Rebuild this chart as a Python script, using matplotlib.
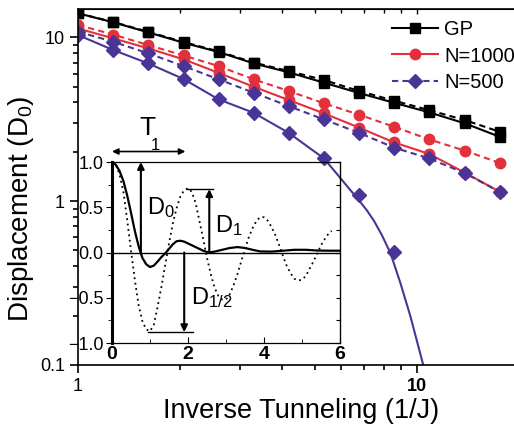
import numpy as np
import matplotlib.pyplot as plt
from matplotlib.ticker import FixedLocator, NullFormatter, MultipleLocator, LogLocator

plt.rcParams['font.family'] = ['Liberation Sans', 'DejaVu Sans']
plt.rcParams['mathtext.fontset'] = 'custom'
plt.rcParams['mathtext.rm'] = 'Liberation Sans'
plt.rcParams['mathtext.it'] = 'Liberation Sans'

# main panel data
inv_tunnel = [1.0, 1.27, 1.61, 2.05, 2.60, 3.30, 4.19, 5.33, 6.76, 8.59, 10.9, 13.9, 17.6]
gp_solid = [14.0, 12.34, 10.72, 9.26, 8.13, 6.93, 6.11, 5.28, 4.57, 3.98, 3.48, 2.98, 2.47]
gp_dashed = [14.0, 12.4, 10.8, 9.35, 8.2, 7.01, 6.22, 5.48, 4.70, 4.10, 3.59, 3.12, 2.65]
n1000_solid = [11.31, 9.85, 8.56, 7.33, 6.07, 4.99, 4.14, 3.43, 2.81, 2.28, 1.94, 1.49, 1.14]
n1000_dashed = [11.88, 10.39, 8.97, 7.74, 6.67, 5.54, 4.70, 3.95, 3.37, 2.84, 2.38, 2.03, 1.71]
n500_dashed = [10.81, 9.39, 7.98, 6.67, 5.54, 4.59, 3.80, 3.15, 2.61, 2.12, 1.82, 1.48, 1.14]
n500_marks = [10.32, 8.36, 6.93, 5.56, 4.18, 3.46, 2.61, 1.82, 1.09, 0.49]
n500_fit_x = [1.0, 1.27, 1.61, 2.05, 2.60, 3.30, 4.19, 5.33, 6.76, 7.1, 7.48, 7.9, 8.38,
              8.97, 9.60, 10.47, 10.7]
n500_fit_y = [10.32, 8.36, 6.93, 5.56, 4.18, 3.46, 2.61, 1.82, 1.01, 0.89, 0.76, 0.62, 0.48,
              0.314, 0.197, 0.0997, 0.085]

# inset data
t_solid = [0.0, 0.1, 0.2, 0.3, 0.4, 0.5, 0.6, 0.7, 0.8, 0.9, 1.0, 1.1, 1.2, 1.3, 1.4,
           1.5, 1.6, 1.7, 1.8, 1.9, 2.0, 2.2, 2.4, 2.55, 2.7, 2.9, 3.1, 3.3, 3.5, 3.7,
           3.9, 4.2, 4.5, 4.8, 5.1, 5.4, 5.7, 6.0]
d_solid = [1.00, 0.97, 0.90, 0.79, 0.63, 0.44, 0.24, 0.07, -0.06, -0.13, -0.16, -0.145, -0.10,
           -0.05, -0.01, 0.04, 0.09, 0.125, 0.13, 0.12, 0.10, 0.06, 0.02, 0.0, 0.01, 0.03,
           0.05, 0.06, 0.05, 0.03, 0.012, 0.01, 0.02, 0.03, 0.03, 0.022, 0.02, 0.02]
t_dot = [0.0, 0.1, 0.2, 0.3, 0.4, 0.5, 0.6, 0.7, 0.8, 0.9, 1.0, 1.1, 1.2, 1.3, 1.4, 1.5,
         1.6, 1.7, 1.8, 1.9, 2.0, 2.1, 2.2, 2.3, 2.4, 2.5, 2.6, 2.7, 2.8, 2.9, 3.0, 3.1,
         3.2, 3.3, 3.4, 3.5, 3.6, 3.7, 3.8, 3.9, 4.0, 4.1, 4.2, 4.3, 4.4, 4.5, 4.6, 4.7,
         4.8, 4.9, 5.0, 5.1, 5.2, 5.3, 5.4, 5.5, 5.6, 5.7, 5.78]
d_dot = [1.00, 0.97, 0.86, 0.67, 0.36, 0.02, -0.30, -0.58, -0.76, -0.85, -0.87, -0.80,
         -0.60, -0.38, -0.14, 0.10, 0.32, 0.49, 0.62, 0.69, 0.71, 0.67, 0.55, 0.35, 0.15,
         -0.06, -0.24, -0.39, -0.48, -0.52, -0.52, -0.46, -0.36, -0.24, -0.10, 0.04, 0.17,
         0.27, 0.35, 0.39, 0.39, 0.35, 0.28, 0.19, 0.08, -0.04, -0.15, -0.23, -0.29, -0.31,
         -0.30, -0.26, -0.18, -0.10, -0.01, 0.08, 0.15, 0.21, 0.24]

red = '#e3303b'
blue = '#4a3596'

fig = plt.figure(figsize=(5.14, 4.24), dpi=100)
ax = fig.add_axes([0.1518, 0.1392, 0.8667, 0.8384])

ax.plot(inv_tunnel, gp_dashed, color='k', ls='--', dashes=(3, 2), lw=1.5, marker='s', ms=6.5)
l_gp, = ax.plot(inv_tunnel, gp_solid, color='k', lw=1.5, marker='s', ms=6.5, label='GP')
ax.plot(inv_tunnel, n1000_dashed, color=red, ls='--', dashes=(3, 2), lw=1.5, marker='o', ms=7.5)
l_1000, = ax.plot(inv_tunnel, n1000_solid, color=red, lw=1.5, marker='o', ms=7.5, label='N=1000')
l_500, = ax.plot(inv_tunnel, n500_dashed, color=blue, ls='--', dashes=(3, 2), lw=1.5,
                 marker='D', ms=7, label='N=500')
ax.plot(n500_fit_x, n500_fit_y, color=blue, lw=1.5)
ax.plot(inv_tunnel[:len(n500_marks)], n500_marks, ls='none', color=blue, marker='D', ms=7)

ax.set_xscale('log')
ax.set_yscale('log')
ax.set_xlim(1, 20.7)
ax.set_ylim(0.1, 14.77)
ax.xaxis.set_major_locator(FixedLocator([1, 10]))
ax.xaxis.set_minor_locator(FixedLocator([2, 3, 4, 5, 6, 7, 8, 9, 20]))
ax.xaxis.set_minor_formatter(NullFormatter())
ax.set_xticklabels(['1', '10'])
ax.get_xticklabels()[1].set_fontweight('bold')
ax.yaxis.set_major_locator(FixedLocator([0.1, 1, 10]))
ax.yaxis.set_minor_locator(LogLocator(subs=np.arange(2, 10)))
ax.yaxis.set_minor_formatter(NullFormatter())
ax.set_yticklabels(['0.1', '1', '10'])
ax.tick_params(which='both', direction='out', labelsize=13, width=1.2)
ax.tick_params(which='major', length=6)
ax.tick_params(which='minor', length=3.5)
for s in ax.spines.values():
    s.set_linewidth(1.2)

top = ax.secondary_xaxis('top')
top.xaxis.set_major_locator(FixedLocator([1, 10]))
top.xaxis.set_minor_locator(FixedLocator([2, 3, 4, 5, 6, 7, 8, 9, 20]))
top.tick_params(which='both', direction='in', labeltop=False, width=1)
top.tick_params(which='minor', length=3)

ax.set_xlabel('Inverse Tunneling (1/J)', fontsize=19.5, labelpad=2)
ax.set_ylabel(r'Displacement (D$\mathregular{_0}$)', fontsize=20)
ax.yaxis.set_label_coords(-0.094, 0.44)

ax.legend(handles=[l_gp, l_1000, l_500], loc='upper left', bbox_to_anchor=(0.735, 0.985),
          bbox_transform=fig.transFigure, frameon=False, fontsize=14.5,
          handlelength=2.3, handletextpad=0.3, labelspacing=0.35, borderpad=0.2)

# inset
ins = fig.add_axes([0.2179, 0.191, 0.4436, 0.4269])
ins.patch.set_alpha(0)
ins.plot(t_solid, d_solid, color='k', lw=1.6)
ins.plot(t_dot, d_dot, color='k', ls=(0, (1, 2)), lw=1.3)
ins.axhline(0, color='k', lw=1)
ins.set_xlim(0, 6)
ins.set_ylim(-1, 1)
ins.set_xticks([0, 2, 4, 6])
ins.set_xticklabels(['0', '2', '4', '6'], fontweight='bold', fontsize=14)
ins.xaxis.set_minor_locator(MultipleLocator(1))
ins.set_yticks([-1, -0.5, 0, 0.5, 1])
ins.set_yticklabels(['\u22121.0', '\u22120.5', '0.0', '0.5', '1.0'], fontsize=13)
ins.yaxis.set_minor_locator(MultipleLocator(0.25))
ins.tick_params(axis='x', which='both', direction='in', pad=2)
ins.tick_params(axis='x', which='major', length=4)
ins.tick_params(axis='x', which='minor', length=3)
ins.tick_params(axis='y', which='both', direction='out', pad=2)
ins.tick_params(axis='y', which='major', length=4)
ins.tick_params(axis='y', which='minor', length=3)
ins.spines['left'].set_linewidth(2.2)
for k in ['top', 'right', 'bottom']:
    ins.spines[k].set_linewidth(0.9)
rsec = ins.secondary_yaxis('right')
rsec.yaxis.set_major_locator(MultipleLocator(0.25))
rsec.tick_params(direction='in', labelright=False, length=3, width=0.8)

arrow_kw = dict(arrowstyle='-|>', color='k', lw=1.5, shrinkA=0, shrinkB=0, mutation_scale=10)
ins.annotate('', xy=(0, 1.116), xytext=(1.93, 1.116), annotation_clip=False,
             arrowprops=dict(arrowstyle='<|-|>', color='k', lw=1.2, shrinkA=0, shrinkB=0,
                             mutation_scale=9))
ins.text(0.92, 1.38, 'T', fontsize=19, ha='center', va='center', clip_on=False)
ins.text(1.13, 1.18, '1', fontsize=12, ha='center', va='center', clip_on=False)

ins.annotate('', xy=(0.76, 1.0), xytext=(0.76, 0), arrowprops=arrow_kw)
ins.text(0.92, 0.5, r'$\mathregular{D_0}$', fontsize=17, ha='left', va='center')

ins.annotate('', xy=(2.56, 0.70), xytext=(2.56, 0), arrowprops=arrow_kw)
ins.plot([1.97, 2.67], [0.70, 0.70], color='k', lw=1)
ins.text(2.71, 0.30, r'$\mathregular{D_1}$', fontsize=17, ha='left', va='center')

ins.annotate('', xy=(1.9, -0.88), xytext=(1.9, 0), arrowprops=arrow_kw)
ins.plot([0.96, 2.12], [-0.88, -0.88], color='k', lw=1)
ins.text(2.07, -0.50, r'$\mathregular{D_{1/2}}$', fontsize=17, ha='left', va='center')

fig.savefig('out.png', dpi=100)
